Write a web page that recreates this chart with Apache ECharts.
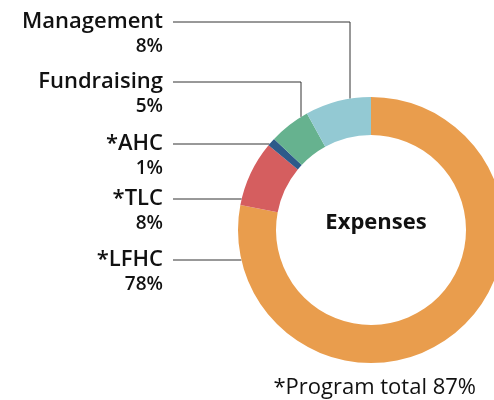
<!DOCTYPE html>
<html>
<head>
<meta charset="utf-8">
<script src="https://cdn.jsdelivr.net/npm/echarts@6/dist/echarts.min.js"></script>
<style>
  html, body { margin: 0; padding: 0; background: #fff; }
  #chart { width: 494px; height: 400px; }
</style>
</head>
<body>
<div id="chart"></div>
<script>
// data, clockwise from 12 o'clock
var categories = ['*LFHC', '*TLC', '*AHC', 'Fundraising', 'Management'];
var shares = [78, 8, 1, 5, 8];
var colors = ['#E99D4D', '#D55E5F', '#2E5A8A', '#66B28F', '#93C9D3'];

// layout of the callouts
var cx = 371, cy = 230, rIn = 95, rOut = 133;
var labelNameY = [260, 199, 144, 82, 22];   // centre of the name line
var elbowX = [null, null, null, 301, 350];  // vertical leg for the top two
var textRight = 163, lineStart = 173;
var font = 'Open Sans';

var chart = echarts.init(document.getElementById('chart'));

var option = {
    animation: false,
    backgroundColor: '#fff',
    textStyle: { fontFamily: font },
    title: [
        {
            text: 'Expenses',
            left: cx, top: cy - 8 - 15,
            textAlign: 'center',
            textStyle: { fontSize: 22, fontWeight: 'bold', color: '#111', fontFamily: font }
        },
        {
            text: '*Program total 87%',
            right: 13, top: 372,
            textStyle: { fontSize: 22, fontWeight: 'normal', color: '#111', fontFamily: font }
        }
    ],
    series: [{
        type: 'pie',
        center: [cx, cy],
        radius: [rIn, rOut],
        startAngle: 90,
        clockwise: true,
        silent: true,
        avoidLabelOverlap: false,
        data: categories.map(function (c, i) {
            return { name: c, value: shares[i], itemStyle: { color: colors[i] } };
        }),
        label: {
            show: true,
            position: 'outside',
            overflow: 'none',
            formatter: '{n|{b}}\n{p|{c}%}',
            rich: {
                n: { fontSize: 22, fontWeight: 600, color: '#111', lineHeight: 26, fontFamily: font, align: 'right' },
                p: { fontSize: 19, fontWeight: 600, color: '#111', lineHeight: 24, fontFamily: font, align: 'right' }
            }
        },
        labelLine: {
            show: true,
            lineStyle: { color: '#333', width: 1 }
        },
        labelLayout: function (params) {
            var i = params.dataIndex;
            var ly = labelNameY[i];
            var pts;
            if (elbowX[i] != null) {
                var xv = elbowX[i];
                var yv = cy - Math.sqrt(rOut * rOut - (xv - cx) * (xv - cx));
                pts = [[xv, yv], [xv, ly], [lineStart, ly]];
            } else {
                var xe = cx - Math.sqrt(rOut * rOut - (ly - cy) * (ly - cy));
                pts = [[xe, ly], [xe, ly], [lineStart, ly]];
            }
            return {
                x: textRight,
                y: ly - 13,
                align: 'right',
                verticalAlign: 'top',
                hideOverlap: false,
                labelLinePoints: pts
            };
        }
    }]
};

chart.setOption(option);
</script>
</body>
</html>
